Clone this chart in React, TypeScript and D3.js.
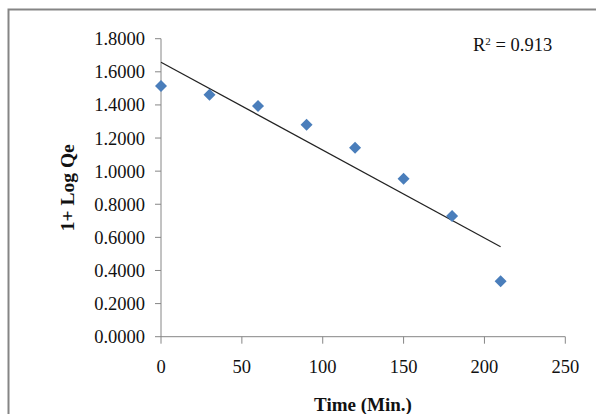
import React from "react";
import * as d3 from "d3";

const timeMin = [0, 30, 60, 90, 120, 150, 180, 210];
const logQe = [1.514, 1.462, 1.393, 1.28, 1.141, 0.954, 0.729, 0.335];
const yTicks = [0, 0.2, 0.4, 0.6, 0.8, 1.0, 1.2, 1.4, 1.6, 1.8];
const xTicks = [0, 50, 100, 150, 200, 250];
const r2Label = "0.913";

export default function App() {
  const W = 596, H = 414;
  const left = 161, right = 565.3, top = 38.7, bottom = 336.7;
  const x = d3.scaleLinear().domain([0, 250]).range([left, right]);
  const y = d3.scaleLinear().domain([0, 1.8]).range([bottom, top]);

  const n = timeMin.length;
  const mx = d3.mean(timeMin)!;
  const my = d3.mean(logQe)!;
  let sxy = 0, sxx = 0;
  for (let i = 0; i < n; i++) {
    sxy += (timeMin[i] - mx) * (logQe[i] - my);
    sxx += (timeMin[i] - mx) ** 2;
  }
  const slope = sxy / sxx;
  const icpt = my - slope * mx;
  const x0 = d3.min(timeMin)!, x1 = d3.max(timeMin)!;

  const font = "'Liberation Serif', 'Times New Roman', serif";
  const axisColor = "#868686";
  const diamond = d3.symbol().type(d3.symbolDiamond2 || d3.symbolDiamond).size(92)();

  return (
    <svg width={W} height={H} style={{ position: "absolute", left: 0, top: 0, background: "#fff" }}>
      <rect x={8.5} y={9.5} width={W + 20} height={H + 20} fill="#fff" stroke="#858585" strokeWidth={2} />
      {/* axes */}
      <line x1={left} x2={left} y1={top} y2={bottom} stroke={axisColor} strokeWidth={1} />
      <line x1={left} x2={right} y1={bottom} y2={bottom} stroke={axisColor} strokeWidth={1} />
      {yTicks.map((t) => (
        <g key={"y" + t}>
          <line x1={left - 6} x2={left} y1={y(t)} y2={y(t)} stroke={axisColor} />
          <text x={145} y={y(t)} dy="0.35em" textAnchor="end" fontFamily={font} fontSize={18.5} fill="#111">
            {t.toFixed(4)}
          </text>
        </g>
      ))}
      {xTicks.map((t) => (
        <g key={"x" + t}>
          <line x1={x(t)} x2={x(t)} y1={bottom} y2={bottom + 7} stroke={axisColor} />
          <text x={x(t)} y={366.5} dy="0.35em" textAnchor="middle" fontFamily={font} fontSize={18.5} fill="#111">
            {t}
          </text>
        </g>
      ))}
      {/* trendline */}
      <line
        x1={x(x0)} y1={y(icpt + slope * x0)}
        x2={x(x1)} y2={y(icpt + slope * x1)}
        stroke="#222" strokeWidth={1.2}
      />
      {timeMin.map((t, i) => (
        <path key={"p" + i} d={diamond as string} transform={`translate(${x(t)},${y(logQe[i])})`} fill="#4a7ebb" />
      ))}
      <text x={473} y={51} fontFamily={font} fontSize={18.5} fill="#111">
        R<tspan dy={-6} fontSize={11}>2</tspan><tspan dy={6}> = {r2Label}</tspan>
      </text>
      <text x={363} y={404} dy="0.35em" textAnchor="middle" fontFamily={font} fontSize={19} fontWeight="bold" fill="#111">
        Time (Min.)
      </text>
      <text transform={`translate(67,${(top + bottom) / 2}) rotate(-90)`} dy="0.35em" textAnchor="middle" fontFamily={font} fontSize={19.5} fontWeight="bold" fill="#111">
        1+ Log Qe
      </text>
    </svg>
  );
}
